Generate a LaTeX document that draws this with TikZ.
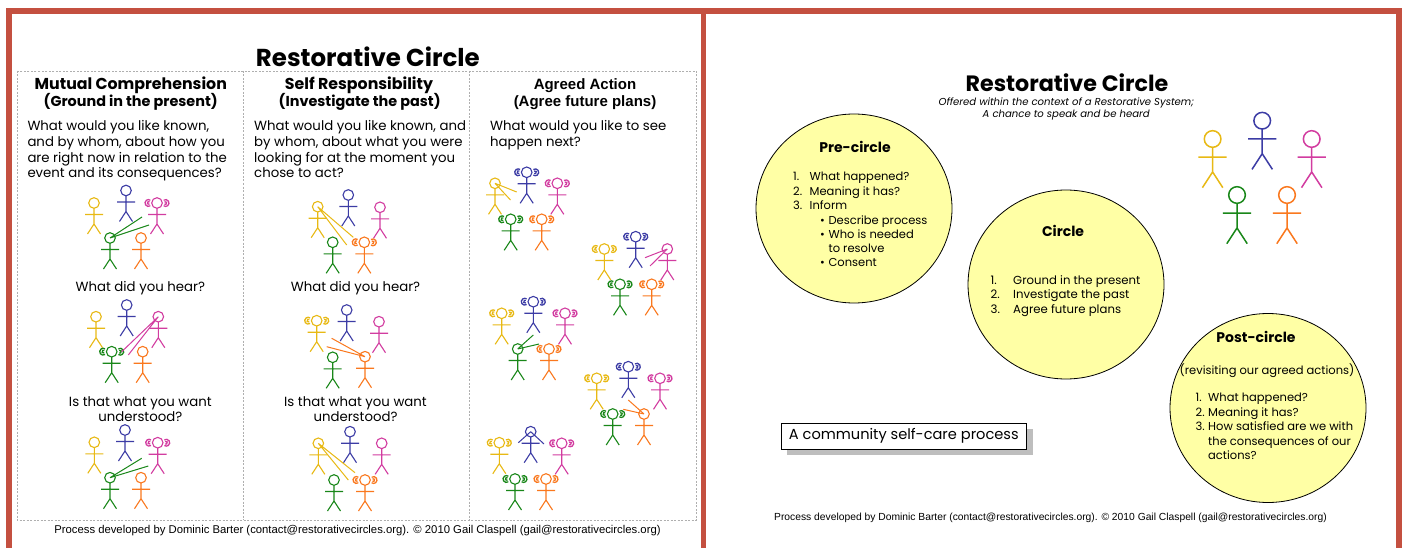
\documentclass[tikz,border=0pt]{standalone}
\usepackage{fontspec}
\setmainfont{Poppins}
\newfontfamily\arialf{Liberation Sans}
\newfontfamily\arialbf{Liberation Sans Bold}
\usetikzlibrary{shapes.geometric,shadows}
\definecolor{frameR}{RGB}{196,80,64}
\definecolor{figY}{RGB}{232,185,20}
\definecolor{figB}{RGB}{60,60,165}
\definecolor{figP}{RGB}{210,60,160}
\definecolor{figG}{RGB}{25,135,25}
\definecolor{figO}{RGB}{250,120,30}
\definecolor{ellfill}{RGB}{255,255,165}
\definecolor{dashgray}{RGB}{175,175,175}
\definecolor{shadowgray}{RGB}{190,190,190}
\newcommand\fTitle{\fontsize{24.5}{28}\selectfont\bfseries}
\newcommand\fHeadA{\fontsize{15.8}{19}\selectfont\bfseries}
\newcommand\fHeadB{\fontsize{14.4}{17}\selectfont\bfseries}
\newcommand\fBody{\fontsize{13.3}{16}\selectfont}
\newcommand\fArH{\arialbf\fontsize{15}{18}\selectfont}
\newcommand\fFootL{\arialf\fontsize{11.3}{13}\selectfont}
\newcommand\fFootR{\arialf\fontsize{10.3}{12}\selectfont}
\newcommand\fRTitle{\fontsize{22.2}{26}\selectfont\bfseries}
\newcommand\fSub{\fontsize{10.1}{12}\selectfont\itshape}
\newcommand\fEllH{\fontsize{14}{17}\selectfont\bfseries}
\newcommand\fEll{\fontsize{11.5}{14}\selectfont}
\newcommand\fCirc{\fontsize{11.7}{14}\selectfont}
\newcommand\fPost{\fontsize{11.5}{14}\selectfont}
\newcommand\fBox{\fontsize{14.6}{17}\selectfont}
\tikzset{
  stickw/.style={line width=1.1pt},
  stick/.pic={
    \coordinate (-h) at (0,0);
    \draw[#1, stickw] (0,0) circle[radius=5.3];
    \draw[#1, stickw] (0,5.3) -- (0,21) (-9,11.5) -- (9,11.5) (-6.5,31) -- (0,21) -- (6.5,31);
  },
  earsp/.pic={
    \draw[#1, line width=1.3pt] ([shift={(-8.6,0)}]55:3.4) arc[start angle=55,end angle=305,radius=3.4];
    \draw[#1, line width=1.3pt] ([shift={(-8.2,0)}]60:1.5) arc[start angle=60,end angle=300,radius=1.5];
    \draw[#1, line width=1.3pt] ([shift={(8.6,0)}]-125:3.4) arc[start angle=-125,end angle=125,radius=3.4];
    \draw[#1, line width=1.3pt] ([shift={(8.2,0)}]-120:1.5) arc[start angle=-120,end angle=120,radius=1.5];
  },
  speech/.style={line width=1pt},
  frame/.style={draw=frameR, line width=5.7pt},
  tbl/.style={draw=dashgray, line width=0.7pt, dash pattern=on 2pt off 1.5pt},
  lt/.style={inner sep=0pt, anchor=base west},
  ct/.style={inner sep=0pt, anchor=base},
  ell/.style={ellipse, draw=black, line width=0.8pt, fill=ellfill, minimum width=196pt, minimum height=189pt, inner sep=0pt},
  cbox/.style={draw=black, line width=1pt, fill=white, minimum width=245.6pt, minimum height=26pt, inner sep=0pt,
    drop shadow={shadow xshift=6pt, shadow yshift=-6pt, fill=shadowgray, opacity=1}},
}
\begin{document}
\begin{tikzpicture}[x=1pt,y=-1pt]
\useasboundingbox (0,0) rectangle (1404,548);
\fill[white] (0,0) rectangle (1404,548);
% frames
\draw[frame] (8.9,548) -- (8.9,11) -- (1399,11) -- (1399,548);
\draw[frame] (703.5,11) -- (703.5,548);
% ================= LEFT PANEL =================
\draw[tbl] (17,71) rectangle (696,520);
\draw[tbl] (243.3,71) -- (243.3,520);
\draw[tbl] (469.6,71) -- (469.6,520);
\node[ct, font=\fTitle] (ltitle) at (367.8,66.7) {Restorative Circle};
% column 1
\node[ct, font=\fHeadA] (h1a) at (130.8,90) {Mutual Comprehension};
\node[ct, font=\fHeadB] (h1b) at (130.7,106.7) {(Ground in the present)};
\node[lt, font=\fBody] (q1a) at (27.3,130.7) {What would you like known,};
\node[lt, font=\fBody] (q1b) at (27.3,146.4) {and by whom, about how you};
\node[lt, font=\fBody] (q1c) at (27.3,162.1) {are right now in relation to the};
\node[lt, font=\fBody] (q1d) at (27.3,177.8) {event and its consequences?};
\node[ct, font=\fBody] (m1) at (140.3,291.7) {What did you hear?};
\node[ct, font=\fBody] (u1a) at (140.3,406.7) {Is that what you want};
\node[ct, font=\fBody] (u1b) at (140.3,421.5) {understood?};
% column 2
\node[ct, font=\fHeadA] (h2a) at (359,90) {Self Responsibility};
\node[ct, font=\fHeadB] (h2b) at (359.7,106.7) {(Investigate the past)};
\node[lt, font=\fBody] (q2a) at (254,130.7) {What would you like known, and};
\node[lt, font=\fBody] (q2b) at (254,146.4) {by whom, about what you were};
\node[lt, font=\fBody] (q2c) at (254,162.1) {looking for at the moment you};
\node[lt, font=\fBody] (q2d) at (254,177.8) {chose to act?};
\node[ct, font=\fBody] (m2) at (355.5,291.7) {What did you hear?};
\node[ct, font=\fBody] (u2a) at (355.5,406.7) {Is that what you want};
\node[ct, font=\fBody] (u2b) at (355.5,421.5) {understood?};
% column 3
\node[ct, font=\fArH] (h3a) at (585,90) {Agreed Action};
\node[ct, font=\fArH] (h3b) at (585,106.7) {(Agree future plans)};
\node[lt, font=\fBody] (q3a) at (490,130.7) {What would you like to see};
\node[lt, font=\fBody] (q3b) at (490,146.4) {happen next?};
% footer left
\node[ct, font=\fFootL] (footL) at (357.5,533.3) {Process developed by Dominic Barter (contact@restorativecircles.org). \textcopyright{} 2010 Gail Claspell (gail@restorativecircles.org)};
% ---- stick figures: group A
\pic (a-y) at (94,203) {stick=figY};
\pic (a-b) at (126,190.5) {stick=figB};
\pic (a-p) at (157,203) {stick=figP};
\pic (a-g) at (110,238) {stick=figG};
\pic (a-o) at (141,238) {stick=figO};
\pic at (a-p-h) {earsp=figP};
\coordinate (a-s1) at (142,217); \coordinate (a-s2) at (149,225);
\draw[speech, figG] (a-g-h) -- (a-s1) (a-g-h) -- (a-s2);
% group B
\pic (b-y) at (96,316.7) {stick=figY};
\pic (b-b) at (126.7,305) {stick=figB};
\pic (b-p) at (158.3,316.7) {stick=figP};
\pic (b-g) at (111.7,351.7) {stick=figG};
\pic (b-o) at (142.7,351.7) {stick=figO};
\pic at (b-g-h) {earsp=figG};
\coordinate (b-s1) at (121.7,351.7); \coordinate (b-s2) at (128.3,355);
\draw[speech, figP] (b-p-h) -- (b-s1) (b-p-h) -- (b-s2);
% group C
\pic (c-y) at (94.3,442.3) {stick=figY};
\pic (c-b) at (125,430) {stick=figB};
\pic (c-p) at (157.7,442.7) {stick=figP};
\pic (c-g) at (110,477.7) {stick=figG};
\pic (c-o) at (141,477.7) {stick=figO};
\pic at (c-p-h) {earsp=figP};
\coordinate (c-s1) at (141.7,458.3); \coordinate (c-s2) at (148.3,466);
\draw[speech, figG] (c-g-h) -- (c-s1) (c-g-h) -- (c-s2);
% group D
\pic (d-y) at (317.7,206.7) {stick=figY};
\pic (d-b) at (348.3,195) {stick=figB};
\pic (d-p) at (380,207.3) {stick=figP};
\pic (d-g) at (332.7,242.3) {stick=figG};
\pic (d-o) at (364.3,242.3) {stick=figO};
\pic at (d-o-h) {earsp=figO};
\coordinate (d-s1) at (353.3,237.3); \coordinate (d-s2) at (346.7,245);
\draw[speech, figY] (d-y-h) -- (d-s1) (d-y-h) -- (d-s2);
% group E
\pic (e-y) at (316.7,320.7) {stick=figY};
\pic (e-b) at (346.7,310) {stick=figB};
\pic (e-p) at (379,321.7) {stick=figP};
\pic (e-g) at (332.7,357.3) {stick=figG};
\pic (e-o) at (365,356.7) {stick=figO};
\pic at (e-y-h) {earsp=figY};
\coordinate (e-s1) at (331.7,338.3); \coordinate (e-s2) at (326.7,346.7);
\draw[speech, figO] (e-o-h) -- (e-s1) (e-o-h) -- (e-s2);
% group F
\pic (f-y) at (318.3,443.3) {stick=figY};
\pic (f-b) at (350,431.7) {stick=figB};
\pic (f-p) at (381.7,443.3) {stick=figP};
\pic (f-g) at (334,480) {stick=figG};
\pic (f-o) at (365,480) {stick=figO};
\pic at (f-o-h) {earsp=figO};
\coordinate (f-s1) at (355,472.7); \coordinate (f-s2) at (348.3,480);
\draw[speech, figY] (f-y-h) -- (f-s1) (f-y-h) -- (f-s2);
% group G
\pic (g-y) at (495,183.3) {stick=figY};
\pic (g-b) at (526.7,172.3) {stick=figB};
\pic (g-p) at (557.3,183.3) {stick=figP};
\pic (g-g) at (510.7,219.3) {stick=figG};
\pic (g-o) at (541.7,219.3) {stick=figO};
\pic at (g-b-h) {earsp=figB};
\pic at (g-p-h) {earsp=figP};
\pic at (g-g-h) {earsp=figG};
\pic at (g-o-h) {earsp=figO};
\coordinate (g-s1) at (516.7,192); \coordinate (g-s2) at (510.5,200);
\draw[speech, figY] (g-y-h) -- (g-s1) (g-y-h) -- (g-s2);
% group H
\pic (h-y) at (604.3,249) {stick=figY};
\pic (h-b) at (635.7,236.7) {stick=figB};
\pic (h-p) at (667.3,249) {stick=figP};
\pic (h-g) at (620,284.3) {stick=figG};
\pic (h-o) at (651.7,284.3) {stick=figO};
\pic at (h-y-h) {earsp=figY};
\pic at (h-b-h) {earsp=figB};
\pic at (h-g-h) {earsp=figG};
\pic at (h-o-h) {earsp=figO};
\coordinate (h-s1) at (645,257.7); \coordinate (h-s2) at (650,266);
\draw[speech, figP] (h-p-h) -- (h-s1) (h-p-h) -- (h-s2);
% group I
\pic (i-y) at (501.7,313.3) {stick=figY};
\pic (i-b) at (533.3,301.7) {stick=figB};
\pic (i-p) at (565,313.3) {stick=figP};
\pic (i-g) at (517.7,349) {stick=figG};
\pic (i-o) at (549,349) {stick=figO};
\pic at (i-y-h) {earsp=figY};
\pic at (i-b-h) {earsp=figB};
\pic at (i-p-h) {earsp=figP};
\pic at (i-o-h) {earsp=figO};
\coordinate (i-s1) at (533.3,335); \coordinate (i-s2) at (539,344);
\draw[speech, figG] (i-g-h) -- (i-s1) (i-g-h) -- (i-s2);
% group J
\pic (j-y) at (596.7,378.3) {stick=figY};
\pic (j-b) at (628.3,366.7) {stick=figB};
\pic (j-p) at (660,378.3) {stick=figP};
\pic (j-g) at (612.7,414) {stick=figG};
\pic (j-o) at (644,414) {stick=figO};
\pic at (j-y-h) {earsp=figY};
\pic at (j-b-h) {earsp=figB};
\pic at (j-p-h) {earsp=figP};
\pic at (j-g-h) {earsp=figG};
\coordinate (j-s1) at (628.3,400); \coordinate (j-s2) at (623.3,409.3);
\draw[speech, figO] (j-o-h) -- (j-s1) (j-o-h) -- (j-s2);
% group K
\pic (k-y) at (499.3,442.7) {stick=figY};
\pic (k-b) at (530.7,431.7) {stick=figB};
\pic (k-p) at (561.7,443.3) {stick=figP};
\pic (k-g) at (515,479) {stick=figG};
\pic (k-o) at (546,479) {stick=figO};
\pic at (k-y-h) {earsp=figY};
\pic at (k-p-h) {earsp=figP};
\pic at (k-g-h) {earsp=figG};
\pic at (k-o-h) {earsp=figO};
\coordinate (k-s1) at (518.3,442.7); \coordinate (k-s2) at (544,444);
\draw[speech, figB] (k-b-h) -- (k-s1) (k-b-h) -- (k-s2);
% ================= RIGHT PANEL =================
\node[ct, font=\fRTitle] (rtitle) at (1067,91.7) {Restorative Circle};
\node[ct, font=\fSub] (sub1) at (1066.3,106) {Offered within the context of a Restorative System;};
\node[ct, font=\fSub] (sub2) at (1066.2,118) {A chance to speak and be heard};
% ellipses
\node[ell] (pre) at (854,208.5) {};
\node[ell] (circ) at (1066,284.5) {};
\node[ell] (post) at (1268,408) {};
% pre-circle text
\node[ct, font=\fEllH] (preh) at (855,152.3) {Pre-circle};
\node[lt, font=\fEll] (pn1) at (793,180.7) {1.};
\node[lt, font=\fEll] (pt1) at (809.5,180.7) {What happened?};
\node[lt, font=\fEll] (pn2) at (793,195) {2.};
\node[lt, font=\fEll] (pt2) at (809.5,195) {Meaning it has?};
\node[lt, font=\fEll] (pn3) at (793,209.3) {3.};
\node[lt, font=\fEll] (pt3) at (809.5,209.3) {Inform};
\node[lt, font=\fEll] (pb1) at (820,224) {\textbullet};
\node[lt, font=\fEll] (pbt1) at (828.4,224) {Describe process};
\node[lt, font=\fEll] (pb2) at (820,238.3) {\textbullet};
\node[lt, font=\fEll] (pbt2) at (828.4,238.3) {Who is needed};
\node[lt, font=\fEll] (pbt2b) at (828.4,252.6) {to resolve};
\node[lt, font=\fEll] (pb3) at (820,266.9) {\textbullet};
\node[lt, font=\fEll] (pbt3) at (828.4,266.9) {Consent};
% circle text
\node[ct, font=\fEllH] (circh) at (1063,236) {Circle};
\node[lt, font=\fCirc] (cn1) at (990.5,284) {1.};
\node[lt, font=\fCirc] (ct1) at (1013,284) {Ground in the present};
\node[lt, font=\fCirc] (cn2) at (990.5,298.5) {2.};
\node[lt, font=\fCirc] (ct2) at (1013,298.5) {Investigate the past};
\node[lt, font=\fCirc] (cn3) at (990.5,313) {3.};
\node[lt, font=\fCirc] (ct3) at (1013,313) {Agree future plans};
% post-circle text
\node[ct, font=\fEllH] (posth) at (1256,342.3) {Post-circle};
\node[ct, font=\fPost] (postr) at (1267,374.5) {(revisiting our agreed actions)};
\node[lt, font=\fPost] (qn1) at (1195.5,401.7) {1.};
\node[lt, font=\fPost] (qt1) at (1208,401.7) {What happened?};
\node[lt, font=\fPost] (qn2) at (1195.5,416.3) {2.};
\node[lt, font=\fPost] (qt2) at (1208,416.3) {Meaning it has?};
\node[lt, font=\fPost] (qn3) at (1195.5,430.7) {3.};
\node[lt, font=\fPost] (qt3) at (1208,430.7) {How satisfied are we with};
\node[lt, font=\fPost] (qt3b) at (1208,445) {the consequences of our};
\node[lt, font=\fPost] (qt3c) at (1208,459.3) {actions?};
% box
\node[cbox, font=\fBox] (cbx) at (903.8,436.3) {A community self-care process};
% footer right
\node[ct, font=\fFootR] (footR) at (1050.5,520) {Process developed by Dominic Barter (contact@restorativecircles.org). \textcopyright{} 2010 Gail Claspell (gail@restorativecircles.org)};
% big figures
\begin{scope}[stickw/.style={line width=1.5pt}]
\pic[scale=1.57] (r-y) at (1212.6,139) {stick=figY};
\pic[scale=1.57] (r-b) at (1262.2,120.7) {stick=figB};
\pic[scale=1.57] (r-p) at (1311.7,139) {stick=figP};
\pic[scale=1.57] (r-g) at (1237,195) {stick=figG};
\pic[scale=1.57] (r-o) at (1287,195) {stick=figO};
\end{scope}
\end{tikzpicture}
\end{document}
